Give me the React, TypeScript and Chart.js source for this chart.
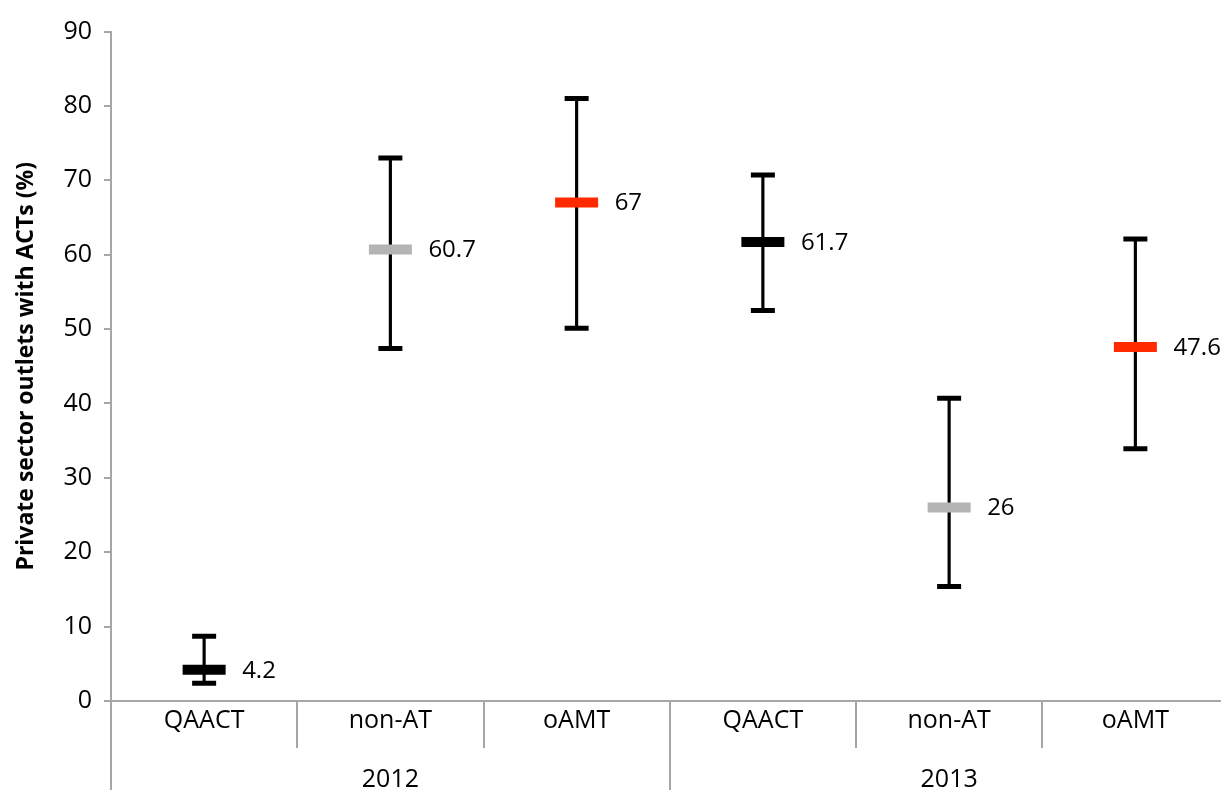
import React, { useEffect, useRef } from "react";
import { Chart, registerables } from "chart.js";

Chart.register(...registerables);

const categories = ["QAACT", "non-AT", "oAMT", "QAACT", "non-AT", "oAMT"];
const years = ["2012", "2013"];
const means = [4.2, 60.7, 67, 61.7, 26, 47.6];
const lows = [2.4, 47.4, 50.1, 52.5, 15.4, 33.9];
const highs = [8.7, 73.0, 81.0, 70.7, 40.7, 62.1];
const meanLabels = ["4.2", "60.7", "67", "61.7", "26", "47.6"];
const meanColors = ["#000000", "#b4b4b4", "#ff2a00", "#000000", "#b4b4b4", "#ff2a00"];
const yTicks = [0, 10, 20, 30, 40, 50, 60, 70, 80, 90];

const FONT = "'Open Sans', 'Noto Sans', sans-serif";
const AXIS_GRAY = "#a6a6a6";
const CANVAS_W = 1260;

const valueLabelPlugin = {
  id: "valueLabels",
  afterDatasetsDraw(chart: any) {
    const meta = chart.getDatasetMeta(0);
    const ctx = chart.ctx;
    ctx.save();
    ctx.font = `24px ${FONT}`;
    ctx.fillStyle = "#000";
    ctx.textAlign = "left";
    ctx.textBaseline = "middle";
    meta.data.forEach((pt: any, i: number) => {
      ctx.fillText(meanLabels[i], pt.x + 38, pt.y + 1);
    });
    ctx.restore();
  },
};

export default function App() {
  const ref = useRef<HTMLCanvasElement | null>(null);

  useEffect(() => {
    if (!ref.current) return;
    const chart = new Chart(ref.current, {
      type: "bar",
      data: {
        labels: categories,
        datasets: [
          {
            type: "line",
            label: "mean",
            data: means,
            showLine: false,
            pointStyle: "line",
            pointRadius: 21.5,
            pointHoverRadius: 21.5,
            pointBorderWidth: 10,
            pointBorderColor: meanColors,
            pointBackgroundColor: meanColors,
            order: 0,
          } as any,
          {
            type: "line",
            label: "high",
            data: highs,
            showLine: false,
            pointStyle: "line",
            pointRadius: 12,
            pointHoverRadius: 12,
            pointBorderWidth: 5,
            pointBorderColor: "#000",
            order: 1,
          } as any,
          {
            type: "line",
            label: "low",
            data: lows,
            showLine: false,
            pointStyle: "line",
            pointRadius: 12,
            pointHoverRadius: 12,
            pointBorderWidth: 5,
            pointBorderColor: "#000",
            order: 2,
          } as any,
          {
            type: "bar",
            label: "range",
            data: lows.map((l, i) => [l, highs[i]]),
            backgroundColor: "#000",
            barThickness: 2.5,
            order: 3,
          } as any,
        ],
      },
      options: {
        responsive: false,
        maintainAspectRatio: false,
        animation: false,
        devicePixelRatio: 1,
        layout: { padding: { top: 29, left: 0, right: 10, bottom: 0 } },
        plugins: {
          legend: { display: false },
          tooltip: { enabled: false },
        },
        scales: {
          y: {
            min: 0,
            max: 90,
            afterBuildTicks: (axis: any) => {
              axis.ticks = yTicks.map((v) => ({ value: v }));
            },
            afterFit: (axis: any) => {
              axis.width = 111;
            },
            ticks: {
              color: "#000",
              font: { family: FONT, size: 25 },
              padding: 12,
            },
            grid: {
              drawOnChartArea: false,
              drawTicks: true,
              tickLength: 7,
              color: AXIS_GRAY,
              lineWidth: 2,
            },
            border: { color: AXIS_GRAY, width: 2 },
            title: {
              display: true,
              text: "Private sector outlets with ACTs (%)",
              color: "#000",
              font: { family: FONT, size: 23, weight: "bold" },
              padding: { top: 13, bottom: 0 },
            },
          },
          x: {
            type: "category",
            position: "bottom",
            offset: true,
            afterFit: (axis: any) => {
              axis.height = 47;
            },
            ticks: {
              color: "#000",
              font: { family: FONT, size: 25 },
              padding: -42,
              maxRotation: 0,
              autoSkip: false,
            },
            grid: {
              offset: true,
              drawOnChartArea: false,
              drawTicks: true,
              tickLength: 47,
              color: AXIS_GRAY,
              lineWidth: 2,
            },
            border: { color: AXIS_GRAY, width: 2 },
          },
          x2: {
            type: "category",
            position: "bottom",
            labels: years,
            offset: true,
            afterFit: (axis: any) => {
              axis.height = 42;
            },
            ticks: {
              color: "#000",
              font: { family: FONT, size: 25 },
              padding: -25,
              maxRotation: 0,
              autoSkip: false,
            },
            grid: {
              offset: true,
              drawOnChartArea: false,
              drawTicks: true,
              tickLength: 42,
              color: AXIS_GRAY,
              lineWidth: 2,
            },
            border: { display: false },
          },
        },
      } as any,
      plugins: [valueLabelPlugin],
    });
    return () => chart.destroy();
  }, []);

  return (
    <div
      style={{
        position: "fixed",
        left: 0,
        top: 0,
        width: 1221,
        height: 790,
        overflow: "hidden",
        background: "#fff",
      }}
    >
      <div style={{ width: CANVAS_W, height: 790, position: "relative" }}>
        <canvas ref={ref} width={CANVAS_W} height={790} style={{ width: CANVAS_W, height: 790, display: "block" }} />
      </div>
    </div>
  );
}
